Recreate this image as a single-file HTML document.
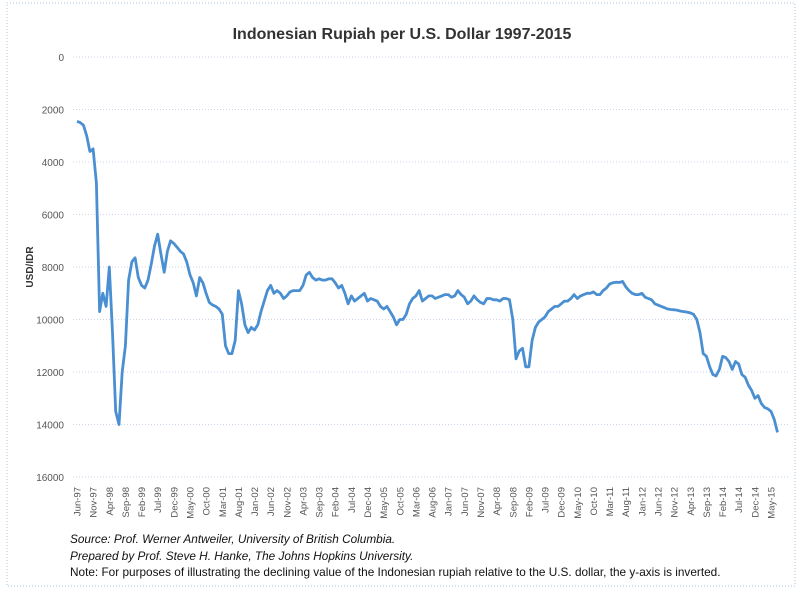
<!DOCTYPE html>
<html><head><meta charset="utf-8"><style>
body{margin:0;background:#fff;font-family:"Liberation Sans",sans-serif;}
#wrap{position:relative;width:800px;height:592px;overflow:hidden}
.note{position:absolute;left:70px;font-size:11.8px;color:#111;white-space:nowrap}
</style></head><body>
<div id="wrap">
<svg id="chart" width="800" height="592">
<rect x="7" y="3" width="788" height="583" fill="none" stroke="#a9c4e0" stroke-dasharray="1,2"/>
<text x="402" y="39" text-anchor="middle" font-size="16" font-weight="bold" fill="#333">Indonesian Rupiah per U.S. Dollar 1997-2015</text>
<text transform="translate(33,267) rotate(-90)" text-anchor="middle" font-size="10" font-weight="bold" fill="#333">USD/IDR</text>
<g id="grid"></g><g id="yt"></g><g id="xt"></g><g id="series"></g>
</svg>
<div class="note" style="top:532px;font-style:italic">Source: Prof. Werner Antweiler, University of British Columbia.</div>
<div class="note" style="top:549px;font-style:italic">Prepared by Prof. Steve H. Hanke, The Johns Hopkins University.</div>
<div class="note" style="top:565px">Note: For purposes of illustrating the declining value of the Indonesian rupiah relative to the U.S. dollar, the y-axis is inverted.</div>
</div>
<script>
const yTicks=[0,2000,4000,6000,8000,10000,12000,14000,16000];
const xLabels=["Jun-97","Nov-97","Apr-98","Sep-98","Feb-99","Jul-99","Dec-99","May-00","Oct-00","Mar-01","Aug-01","Jan-02","Jun-02","Nov-02","Apr-03","Sep-03","Feb-04","Jul-04","Dec-04","May-05","Oct-05","Mar-06","Aug-06","Jan-07","Jun-07","Nov-07","Apr-08","Sep-08","Feb-09","Jul-09","Dec-09","May-10","Oct-10","Mar-11","Aug-11","Jan-12","Jun-12","Nov-12","Apr-13","Sep-13","Feb-14","Jul-14","Dec-14","May-15"];
// monthly values starting Jun-97
const rates=[2450,2500,2600,3000,3600,3500,4800,9700,9000,9500,8000,10500,13500,14000,12000,11000,8500,7800,7650,8400,8700,8800,8500,7900,7200,6750,7500,8200,7400,7000,7100,7250,7400,7500,7800,8300,8600,9100,8400,8600,9000,9350,9450,9500,9600,9800,11000,11300,11300,10800,8900,9400,10200,10500,10300,10400,10200,9700,9300,8900,8700,9000,8900,9000,9200,9100,8950,8900,8900,8900,8700,8300,8200,8400,8500,8450,8500,8500,8450,8450,8600,8800,8700,9000,9400,9100,9300,9200,9100,9000,9300,9200,9250,9300,9500,9600,9500,9700,9900,10200,10000,10000,9800,9400,9200,9100,8900,9300,9200,9100,9100,9200,9150,9100,9050,9050,9150,9100,8900,9050,9150,9400,9300,9100,9250,9350,9400,9200,9200,9250,9250,9300,9200,9200,9250,10000,11500,11200,11100,11800,11800,10800,10300,10100,10000,9900,9700,9600,9500,9500,9400,9300,9300,9200,9050,9200,9100,9050,9000,9000,8950,9050,9050,8900,8800,8650,8600,8580,8590,8550,8750,8900,9000,9050,9050,9000,9150,9200,9250,9400,9450,9500,9550,9600,9620,9630,9650,9680,9700,9720,9750,9800,10000,10500,11300,11400,11800,12100,12150,11900,11400,11450,11600,11900,11600,11700,12100,12200,12500,12700,13000,12900,13200,13350,13400,13500,13800,14300];
const NS="http://www.w3.org/2000/svg";
const x0=77,pxPerMonth=(771-77)/215;
function xs(i){return x0+i*pxPerMonth;}
function ys(v){return 57+v/16000*420;}
function mk(t,a,p){const e=document.createElementNS(NS,t);for(const k in a)e.setAttribute(k,a[k]);p.appendChild(e);return e;}
const grid=document.getElementById('grid'),yt=document.getElementById('yt'),xt=document.getElementById('xt'),ser=document.getElementById('series');
yTicks.forEach(v=>{
 const l=mk('line',{x1:73,x2:790,y1:ys(v),y2:ys(v),stroke:'#c9d6ea','stroke-dasharray':'1,2'},grid);
 
 
 const t=mk('text',{x:64,y:ys(v)+4,'text-anchor':'end','font-size':'10',fill:'#555'},yt);
 t.textContent=v;
 
 
});
xLabels.forEach((s,i)=>{
 const x=xs(i*5)+3.5;
 const t=mk('text',{transform:`translate(${x},487) rotate(-90)`,'text-anchor':'end','font-size':'9.5',fill:'#555'},xt);
 t.textContent=s;
 
 
});
const p=mk('polyline',{points:rates.map((v,i)=>xs(i).toFixed(1)+','+ys(v).toFixed(1)).join(' '),fill:'none',stroke:'#4a8fd1','stroke-width':'2.8','stroke-linejoin':'round'},ser);


</script>
</body></html>
